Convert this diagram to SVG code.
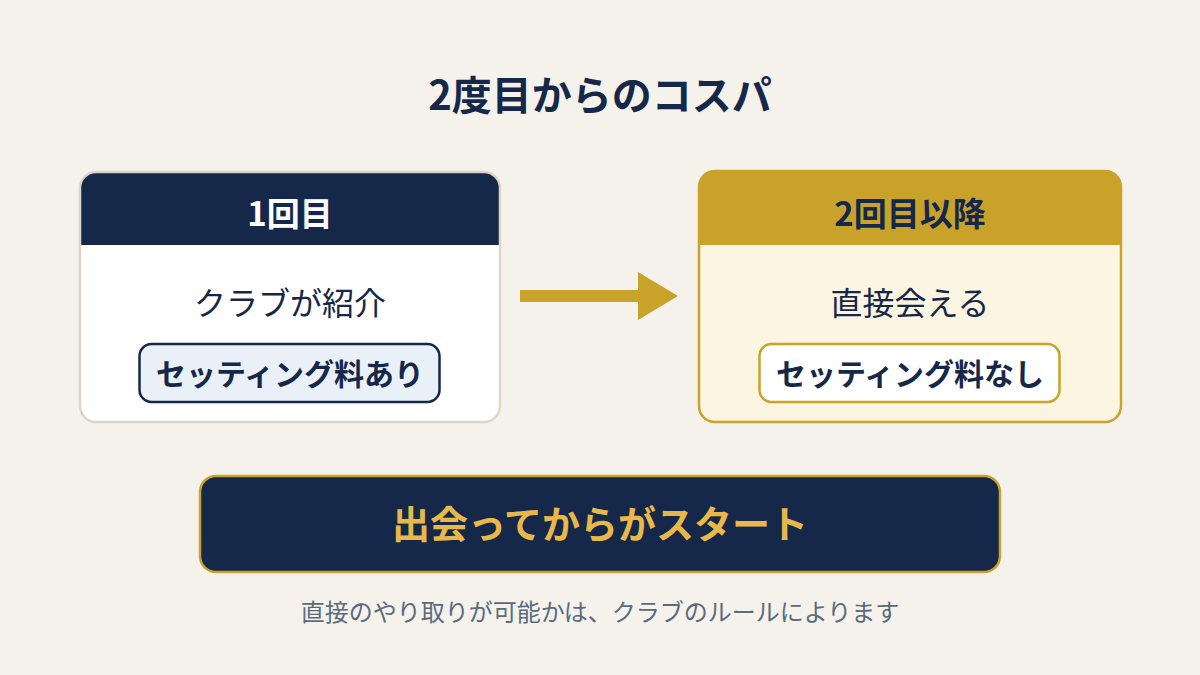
<svg xmlns="http://www.w3.org/2000/svg" width="1200" height="675" viewBox="0 0 1200 675">
<style>
text{font-family:"Noto Sans CJK JP","Noto Sans",sans-serif;text-anchor:middle}
.title{font-size:40px;font-weight:700;fill:#16284A}
.head{font-size:33px;font-weight:700}
.body{font-size:32px;font-weight:400;fill:#16284A}
.pill{font-size:30px;font-weight:700;fill:#16284A}
.big{font-size:38px;font-weight:700;fill:#E8B94A}
.note{font-size:24px;fill:#5A6B80}
</style>
<defs>
<clipPath id="c1"><rect x="80" y="172" width="420" height="250" rx="16"/></clipPath>
<clipPath id="c2"><rect x="699" y="171" width="422" height="251" rx="16"/></clipPath>
</defs>
<rect width="1200" height="675" fill="#F5F2EC"/>
<text class="title" x="600" y="110">2度目からのコスパ</text>
<g id="card1">
<rect x="80" y="172" width="420" height="250" rx="16" fill="#FFFFFF"/>
<rect x="80" y="172" width="420" height="73" fill="#16284A" clip-path="url(#c1)"/>
<rect x="80" y="172" width="420" height="250" rx="16" fill="none" stroke="#DDD6C8" stroke-width="2.5"/>
<text class="head" x="290" y="226" fill="#FFFFFF">1回目</text>
<text class="body" x="290" y="315">クラブが紹介</text>
<rect x="139.5" y="344" width="300" height="58" rx="12" fill="#EAF0F8" stroke="#16284A" stroke-width="2.5"/>
<text class="pill" x="290" y="385">セッティング料あり</text>
</g>
<g id="connectors">
<rect x="520" y="290" width="120" height="12" fill="#C9A22A"/>
<polygon points="638,272 678,296 638,320" fill="#C9A22A"/>
</g>
<g id="card2">
<rect x="699" y="171" width="422" height="251" rx="16" fill="#FBF5E1"/>
<rect x="699" y="171" width="422" height="74" fill="#C9A22A" clip-path="url(#c2)"/>
<rect x="699" y="171" width="422" height="251" rx="16" fill="none" stroke="#CBA22B" stroke-width="2.5"/>
<text class="head" x="910" y="226" fill="#16284A">2回目以降</text>
<text class="body" x="910" y="315">直接会える</text>
<rect x="759.5" y="344" width="300" height="58" rx="12" fill="#FFFFFF" stroke="#C9A22A" stroke-width="2.5"/>
<text class="pill" x="910" y="385">セッティング料なし</text>
</g>
<g id="start">
<rect x="200" y="476" width="800" height="96" rx="16" fill="#16284A" stroke="#C9A22A" stroke-width="2.5"/>
<text class="big" x="600" y="538">出会ってからがスタート</text>
</g>
<text class="note" x="600" y="621">直接のやり取りが可能かは、クラブのルールによります</text>
</svg>
